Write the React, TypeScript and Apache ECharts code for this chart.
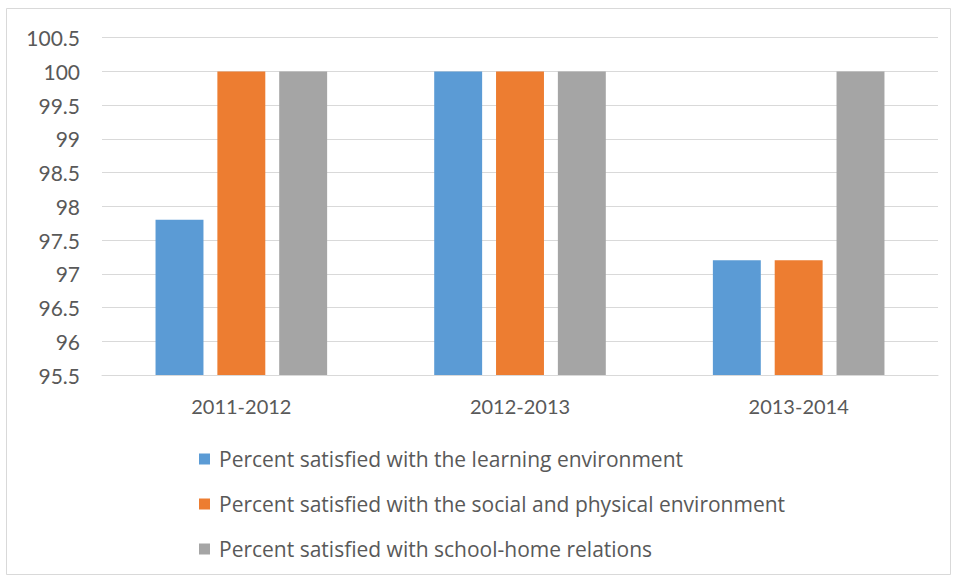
import React, { useEffect, useRef } from "react";
import * as echarts from "echarts";

const categories = ["2011-2012", "2012-2013", "2013-2014"];
const seriesNames = [
  "Percent satisfied with the learning environment",
  "Percent satisfied with the social and physical environment",
  "Percent satisfied with school-home relations",
];
const learning = [97.8, 100, 97.2];
const socialPhysical = [100, 100, 97.2];
const schoolHome = [100, 100, 100];
const colors = ["#5b9bd5", "#ed7d31", "#a5a5a5"];

export default function App() {
  const ref = useRef<HTMLDivElement>(null);
  useEffect(() => {
    if (!ref.current) return;
    const chart = echarts.init(ref.current, null, { renderer: "svg" });
    const font = "Lato";
    const data = [learning, socialPhysical, schoolHome];
    chart.setOption({
      animation: false,
      backgroundColor: "#ffffff",
      color: colors,
      textStyle: { fontFamily: font },
      graphic: [
        {
          type: "rect",
          shape: { x: 6.5, y: 8.5, width: 944, height: 566 },
          style: { fill: "none", stroke: "#d9d9d9", lineWidth: 1 },
          silent: true,
        },
      ],
      grid: { left: 102, right: 17, top: 37.7, bottom: 204 },
      xAxis: {
        type: "category",
        data: categories,
        axisLine: { show: true, lineStyle: { color: "#d9d9d9" } },
        axisTick: { show: false },
        axisLabel: { color: "#595959", fontSize: 20, fontFamily: font, margin: 21 },
      },
      yAxis: {
        type: "value",
        min: 95.5,
        max: 100.5,
        interval: 0.5,
        axisLine: { show: false },
        axisTick: { show: false },
        splitLine: { lineStyle: { color: "#d9d9d9", width: 1 } },
        axisLabel: { color: "#595959", fontSize: 21, fontFamily: font, margin: 22 },
      },
      legend: {
        orient: "vertical",
        left: 194,
        top: 443,
        itemWidth: 11,
        itemHeight: 11,
        itemGap: 23,
        icon: "rect",
        textStyle: {
          color: "#595959",
          fontSize: 21,
          fontFamily: "Open Sans",
          lineHeight: 22,
          padding: [0, 0, 0, 4],
        },
        data: seriesNames,
      },
      series: seriesNames.map((name, i) => ({
        name,
        type: "bar",
        data: data[i],
        barWidth: "17.2%",
        barGap: "29%",
        itemStyle: { color: colors[i] },
      })),
    });
    return () => chart.dispose();
  }, []);
  return (
    <div
      ref={ref}
      style={{ position: "fixed", left: 0, top: 0, width: 955, height: 579 }}
    />
  );
}
